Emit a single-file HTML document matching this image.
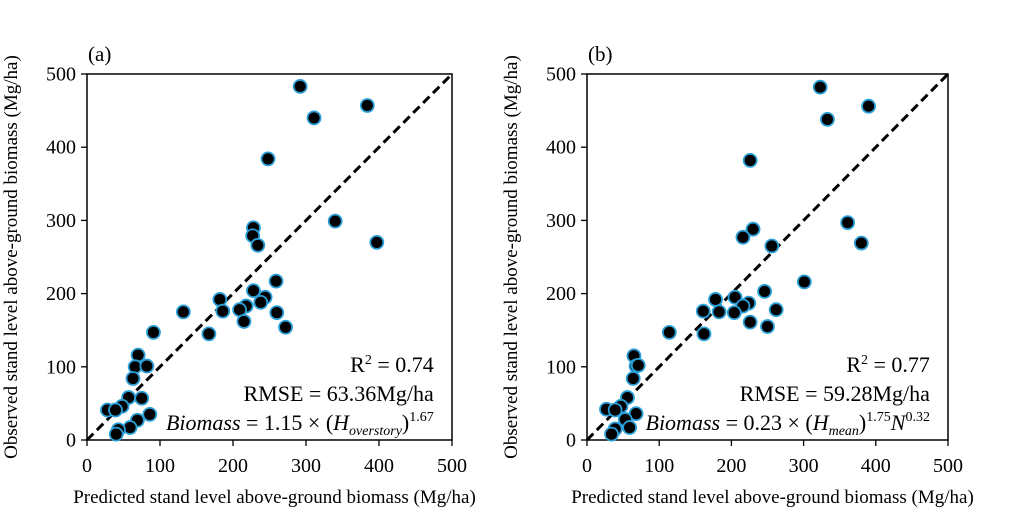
<!DOCTYPE html>
<html><head><meta charset="utf-8"><style>
body{margin:0;background:#fff}
svg, svg text{font-family:"Liberation Serif","DejaVu Serif",serif}
</style></head><body>
<svg id="c" width="1024" height="521" viewBox="0 0 1024 521" font-family="Liberation Serif, serif"></svg>
<script>
const predA=[292,384,311,248,340,397,228,227,234,259,228,244,238,218,209,182,186,215,260,272,132,167,91,70,66,82,63,57,75,48,28,39,86,69,59,43,40];
const obsA=[483,457,440,384,299,270,290,279,266,217,204,195,188,183,178,192,176,162,174,154,175,145,147,116,100,101,84,58,57,46,41,41,35,27,17,14,8];
const predB=[323,390,333,226,361,380,230,216,256,301,246,205,178,224,216,161,183,204,262,226,250,114,162,65,68,71,64,56,68,47,27,39,53,59,39,34];
const obsB=[482,456,438,382,297,269,288,277,265,216,203,195,192,187,183,176,175,174,178,161,155,147,145,115,101,102,84,58,36,46,42,41,28,17,15,8];
const ticks=[0,100,200,300,400,500];
const NS='http://www.w3.org/2000/svg';
const svg=document.getElementById('c');
function mk(tag,attrs,parent,text){const e=document.createElementNS(NS,tag);for(const k in attrs)e.setAttribute(k,attrs[k]);if(text!==undefined)e.textContent=text;(parent||svg).appendChild(e);return e;}
function panel(id,x0,x1,pred,obs,label,r2,rmse,eqHTML){
  const y0=440,y1=74;
  const sx=v=>x0+(x1-x0)*v/500, sy=v=>y0-(y0-y1)*v/500;
  const g=mk('g',{});
  
  
  const fr=mk('rect',{x:x0,y:y1,width:x1-x0,height:y0-y1,fill:'none',stroke:'#000','stroke-width':1.5},g);
  
  
  ticks.forEach(t=>{
    mk('line',{x1:sx(t),x2:sx(t),y1:y0,y2:y0+6,stroke:'#000','stroke-width':1.3},g);
    mk('line',{x1:x0-6,x2:x0,y1:sy(t),y2:sy(t),stroke:'#000','stroke-width':1.3},g);
    const xl=mk('text',{x:sx(t),y:472,'text-anchor':'middle','font-size':20},g,t);
    
    
    const yl=mk('text',{x:x0-11,y:sy(t)+6.5,'text-anchor':'end','font-size':20},g,t);
    
    
  });
  const dl=mk('line',{x1:sx(0),y1:sy(0),x2:sx(500),y2:sy(500),stroke:'#000','stroke-width':3,'stroke-dasharray':'9,5'},g);
  
  
  pred.forEach((p,i)=>{
    const c=mk('circle',{cx:sx(p),cy:sy(obs[i]),r:6.5,fill:'#000',stroke:'#2a9fd8','stroke-width':1.8},g);
    
    
  });
  const pl=mk('text',{x:x0+1,y:61,'font-size':21},g,label);
  
  
  const rx=x0+(x1-x0)*0.95;
  const t1=mk('text',{x:rx,y:372,'text-anchor':'end','font-size':22},g);
  
  
  t1.innerHTML='R<tspan dy="-8" font-size="14">2</tspan><tspan dy="8"> = '+r2+'</tspan>';
  const t2=mk('text',{x:rx,y:401,'text-anchor':'end','font-size':22},g,'RMSE = '+rmse+'Mg/ha');
  
  
  const t3=mk('text',{x:rx,y:430,'text-anchor':'end','font-size':22},g);
  
  
  t3.innerHTML=eqHTML;
  const ya=mk('text',{transform:'translate('+(x0-70)+',257) rotate(-90)','text-anchor':'middle','font-size':19},g,'Observed stand level above-ground biomass (Mg/ha)');
  
  
  const xa=mk('text',{x:(x0+x1)/2+5,y:503,'text-anchor':'middle','font-size':19},g,'Predicted stand level above-ground biomass (Mg/ha)');
  
  
}
panel('a',87,452,predA,obsA,'(a)','0.74','63.36',
 '<tspan font-style="italic">Biomass</tspan> = 1.15 × (<tspan font-style="italic">H</tspan><tspan font-style="italic" font-size="14" dy="5">overstory</tspan><tspan dy="-5">)</tspan><tspan font-size="14" dy="-9">1.67</tspan>');
panel('b',587,948,predB,obsB,'(b)','0.77','59.28',
 '<tspan font-style="italic">Biomass</tspan> = 0.23 × (<tspan font-style="italic">H</tspan><tspan font-style="italic" font-size="14" dy="5">mean</tspan><tspan dy="-5">)</tspan><tspan font-size="14" dy="-9">1.75</tspan><tspan font-style="italic" dy="9">N</tspan><tspan font-size="14" dy="-9">0.32</tspan>');
</script>
</body></html>
